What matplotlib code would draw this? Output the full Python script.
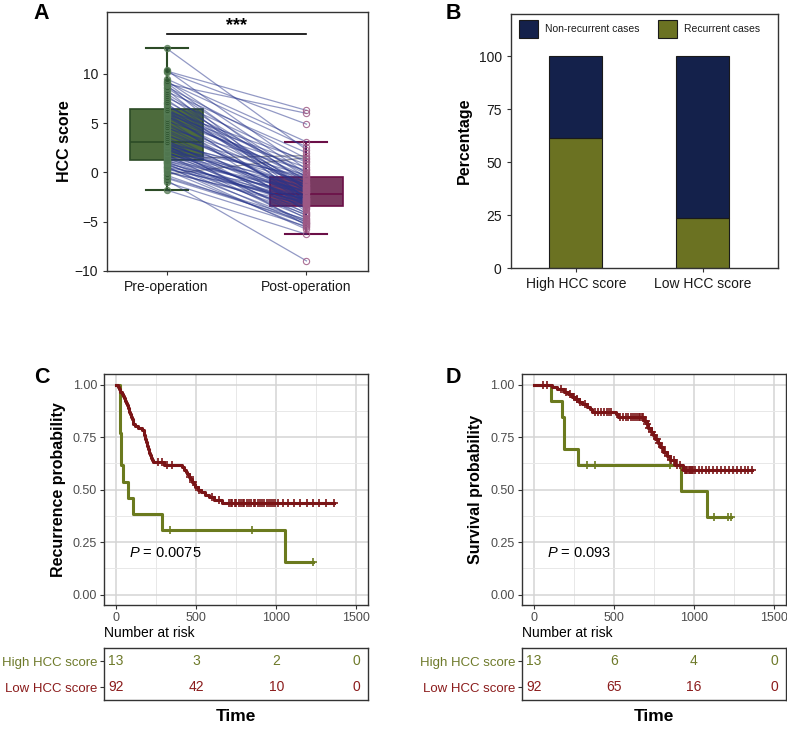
import numpy as np
import matplotlib
matplotlib.use("Agg")
import matplotlib.pyplot as plt
from matplotlib.patches import Rectangle

plt.rcParams["font.family"] = "Liberation Sans"
plt.rcParams["mathtext.fontset"] = "custom"
plt.rcParams["mathtext.it"] = "Liberation Sans:italic"
plt.rcParams["mathtext.rm"] = "Liberation Sans"

# ---------------- data ----------------
timepoints = ["Pre-operation", "Post-operation"]
pre_score = [-1.8, -1.0, -0.8, -0.6, -0.5, -0.3, -0.2, 0.0, 0.1, 0.2, 0.3, 0.4, 0.5, 0.5, 0.6,
             0.7, 0.8, 0.9, 0.9, 1.0, 1.1, 1.15,
             1.2, 1.3, 1.4, 1.5, 1.6, 1.7, 1.8, 1.9, 2.0, 2.0, 2.1, 2.2, 2.3, 2.4, 2.5, 2.5,
             2.6, 2.7, 2.8, 2.8, 2.9, 2.95, 3.0,
             3.1, 3.3, 3.5, 3.7, 3.9, 4.1, 4.3, 4.5, 4.6, 4.8, 5.0, 5.2, 5.4, 5.6, 5.7, 5.8,
             5.9, 6.0, 6.1, 6.2, 6.25, 6.3,
             6.5, 6.7, 6.9, 7.0, 7.2, 7.4, 7.6, 7.8, 8.0, 8.2, 8.4, 8.6, 8.7, 8.9, 9.0, 9.1,
             9.2, 9.3, 9.5, 10.2, 10.3, 10.4, 12.6]
post_score = [-6.3, -5.5, -9.0, -5.0, -4.8, -5.2, 1.5, -3.3, -3.6, -5.6, -2.7, -3.0, -4.9, -2.0, -5.8,
              -3.1, -4.3, -2.8, -5.3, -3.2, -4.6, -1.9,
              -3.5, -1.8, 1.7, -4.1, -3.3, -2.6, -5.1, -1.5, -2.8, -2.9, -4.4, -1.2, -3.1, -2.0, -4.7, -0.4,
              -2.4, -3.7, -1.7, -5.4, -2.3, -0.6, -3.0,
              -1.0, -4.2, -2.7, -0.3, -3.4, -1.8, -2.1, 0.2, -2.4, -1.3, -2.6, 0.5, -4.0, -1.6, -0.4, -2.9,
              0.8, -3.2, -1.1, -1.5, 1.2, -0.7,
              -1.6, 0.0, -1.4, -2.6, -0.2, -2.0, 1.0, -1.7, -0.9, 2.0, -3.1, -0.5, 1.4, -2.8, 6.0, -1.2,
              2.6, -0.1, 3.1, 4.9, 6.3, 0.3, 2.3]

score_groups = ["High HCC score", "Low HCC score"]
outcome_labels = ["Non-recurrent cases", "Recurrent cases"]
recurrent_pct = [61.5, 23.9]
nonrecurrent_pct = [38.5, 76.1]

# recurrence (panel C)
rec_high_events = [22, 25, 28, 30, 32, 45, 75, 108, 285, 1052]
rec_high_censored = [337, 852, 1227]
rec_low_events = [10, 18, 28, 35, 42, 48, 55, 60, 66, 72, 78, 84, 90, 95, 100, 104, 108,
                  120, 140, 160, 172, 176, 180, 184, 188, 192, 196, 200, 204, 208, 213, 218,
                  223, 228, 300, 415, 425, 435, 445, 455, 465, 475, 485, 495,
                  510, 530, 555, 580, 610, 660]
rec_low_censored = [260, 290, 320, 350, 460, 480, 520, 600, 640,
                    705, 715, 725, 740, 750, 765, 780, 790, 800, 815, 830, 845, 860, 870,
                    885, 900, 910, 925, 940, 955, 965, 980, 995,
                    1010, 1040, 1075, 1110, 1150, 1190, 1230, 1270, 1310, 1358]

# survival (panel D)
surv_high_events = [109, 177, 192, 192, 277, 917, 1083]
surv_high_censored = [333, 385, 850, 1125, 1210, 1229]
surv_low_events = [115, 146, 190, 215, 240, 260, 280, 302, 330, 350, 365, 515, 525,
                   690, 705, 715, 730, 745, 760, 775, 790, 810, 830, 850, 880, 935]
surv_low_censored = [60, 80, 170, 200, 225, 250, 270, 290, 320, 380, 400, 420, 440, 455, 470, 485,
                     540, 560, 575, 590, 605, 620, 635, 645, 655, 665, 675, 685,
                     698, 710, 722, 738, 752, 768, 782, 798, 818, 838, 858, 875, 895, 915,
                     945, 953, 960, 968, 975, 982, 988, 995,
                     1010, 1030, 1050, 1075, 1095, 1120, 1145, 1170, 1195, 1220, 1245, 1270,
                     1295, 1320, 1340, 1360]

p_recurrence = "0.0075"
p_survival = "0.093"
risk_times = [0, 500, 1000, 1500]

# ---------------- style ----------------
GREEN_BOX, GREEN_EDGE = "#4d6b3c", "#2c4b26"
PURPLE_BOX, PURPLE_EDGE = "#7a3b61", "#6b0f47"
NAVY, OLIVE = "#14214b", "#6b7222"
KM_RED, KM_GREEN = "#7a1416", "#6b7a1e"
TXT_RED, TXT_GREEN = "#8b1c1c", "#6e7a2a"

W, H = 787, 729
fig = plt.figure(figsize=(W / 100, H / 100), dpi=100)


def px_axes(x0, y0, x1, y1):
    return fig.add_axes([x0 / W, 1 - y1 / H, (x1 - x0) / W, (y1 - y0) / H])


def frame(ax):
    for sp in ax.spines.values():
        sp.set_color("#333333")
        sp.set_linewidth(1.0)


def km_curve(events, censored):
    times = np.array(events + censored, float)
    dead = np.array([1] * len(events) + [0] * len(censored))
    s = 1.0
    xs, ys, cx, cy = [0.0], [1.0], [], []
    for t in np.unique(times):
        at = times == t
        n = (times >= t).sum()
        d = dead[at].sum()
        if d:
            s *= 1 - d / n
        xs.append(t)
        ys.append(s)
        if (dead[at] == 0).any():
            cx.append(t)
            cy.append(s)
    return xs, ys, cx, cy


# ---------------- A ----------------
axA = px_axes(107, 12, 368, 270.7)
frame(axA)
bp = axA.boxplot([pre_score, post_score], positions=[1, 2], widths=0.52, patch_artist=True,
                 showfliers=False, capwidths=0.3, zorder=1)
for i, (fc, ec) in enumerate([(GREEN_BOX, GREEN_EDGE), (PURPLE_BOX, PURPLE_EDGE)]):
    bp["boxes"][i].set(facecolor=fc, edgecolor=ec, linewidth=1.2)
    bp["medians"][i].set(color=ec, linewidth=1.2)
    for w in bp["whiskers"][2 * i:2 * i + 2] + bp["caps"][2 * i:2 * i + 2]:
        w.set(color=ec, linewidth=1.5)
for a, b in zip(pre_score, post_score):
    down = b < a
    axA.plot([1, 2], [a, b], color="#27348b" if down else "#8a8a8a",
             alpha=0.5 if down else 0.85, lw=0.9, zorder=2)
axA.plot([1] * len(pre_score), pre_score, "o", ms=4.5, mfc=(0.18, 0.33, 0.18, 0.6),
         mec=(0.35, 0.5, 0.35, 0.8), mew=0.8, zorder=3)
axA.plot([2] * len(post_score), post_score, "o", ms=4.5, mfc="none",
         mec=(0.62, 0.35, 0.52, 0.85), mew=0.8, zorder=3)
axA.plot([1, 2], [14.1, 14.1], color="black", lw=1.2)
axA.text(1.5, 14.1, "***", ha="center", va="bottom", fontsize=13, fontweight="bold")
axA.set_xlim(0.574, 2.44)
axA.set_ylim(-10, 16.3)
axA.set_yticks([-10, -5, 0, 5, 10])
axA.set_xticks([1, 2])
axA.set_xticklabels(timepoints)
axA.tick_params(labelsize=10, length=3, color="#333333", labelcolor="#1a1a1a")
axA.set_ylabel("HCC score", fontsize=11.5, fontweight="bold", labelpad=2)

# ---------------- B ----------------
axB = px_axes(510.7, 14, 778.3, 268.3)
frame(axB)
xb = [1, 2]
axB.bar(xb, recurrent_pct, width=0.42, color=OLIVE, edgecolor="#1a1a1a", lw=0.8)
axB.bar(xb, nonrecurrent_pct, width=0.42, bottom=recurrent_pct, color=NAVY,
        edgecolor="#1a1a1a", lw=0.8)
axB.set_xlim(0.487, 2.596)
axB.set_ylim(0, 120)
axB.set_yticks([0, 25, 50, 75, 100])
axB.set_xticks(xb)
axB.set_xticklabels(score_groups)
axB.tick_params(labelsize=10, length=3, color="#333333", labelcolor="#1a1a1a")
axB.set_ylabel("Percentage", fontsize=11.5, fontweight="bold", labelpad=5)
for lx, tx, col, lab in [(0.031, 0.128, NAVY, outcome_labels[0]),
                         (0.550, 0.648, OLIVE, outcome_labels[1])]:
    axB.add_patch(Rectangle((lx, 0.906), 0.07, 0.07, transform=axB.transAxes,
                            facecolor=col, edgecolor="#1a1a1a", lw=0.8))
    axB.text(tx, 0.941, lab, transform=axB.transAxes, fontsize=7.5, va="center",
             color="#1a1a1a")


# ---------------- C / D ----------------
def km_panel(x0, x1, groups, ylabel, pval):
    ax = px_axes(x0, 374.3, x1, 605)
    frame(ax)
    ax.set_xlim(-75, 1575)
    ax.set_ylim(-0.05, 1.05)
    ax.set_xticks(risk_times)
    ax.set_xticks([250, 750, 1250], minor=True)
    ax.set_yticks([0, 0.25, 0.5, 0.75, 1.0])
    ax.set_yticks([0.125, 0.375, 0.625, 0.875], minor=True)
    ax.set_yticklabels(["0.00", "0.25", "0.50", "0.75", "1.00"])
    ax.grid(which="major", color="#d4d4d4", lw=1.1)
    ax.grid(which="minor", color="#e8e8e8", lw=0.7)
    ax.set_axisbelow(True)
    ax.tick_params(which="major", labelsize=9, length=3, pad=2, color="#333333",
                   labelcolor="#4d4d4d")
    ax.tick_params(which="minor", length=0)
    for ev, ce, col in groups:
        xs, ys, cx, cy = km_curve(ev, ce)
        ax.step(xs, ys, where="post", color=col, lw=2.2)
        ax.plot(cx, cy, "+", color=col, ms=5.5, mew=1.2)
    ax.text(84, 0.197, r"$P$ = " + pval, fontsize=10.5, va="center", ha="left")
    ax.set_ylabel(ylabel, fontsize=11.5, fontweight="bold", labelpad=5)

    rt = px_axes(x0, 648.3, x1, 700)
    frame(rt)
    rt.set_xlim(-75, 1575)
    rt.set_ylim(0.5, 2.5)
    rt.set_xticks([])
    rt.set_yticks([2, 1])
    rt.set_yticklabels(score_groups, fontsize=9.5)
    for lbl, c in zip(rt.get_yticklabels(), [TXT_GREEN, TXT_RED]):
        lbl.set_color(c)
    rt.tick_params(axis="y", length=3, pad=1.5, color="#333333")
    for yrow, (ev, ce, _), c in zip([2, 1], groups, [TXT_GREEN, TXT_RED]):
        allt = np.array(ev + ce)
        for t in risk_times:
            rt.text(t, yrow, str(int((allt >= t).sum())), ha="center", va="center",
                    fontsize=10, color=c)
    rt.text(0, 1.29, "Number at risk", transform=rt.transAxes, fontsize=10,
            va="center", ha="left")
    rt.text(0.5, -0.323, "Time", transform=rt.transAxes, fontsize=12.5,
            fontweight="bold", ha="center", va="center")
    return ax


km_panel(104, 368.3, [(rec_high_events, rec_high_censored, KM_GREEN),
                      (rec_low_events, rec_low_censored, KM_RED)],
         "Recurrence probability", p_recurrence)
km_panel(521.7, 786, [(surv_high_events, surv_high_censored, KM_GREEN),
                      (surv_low_events, surv_low_censored, KM_RED)],
         "Survival probability", p_survival)

for lab, x, y in [("A", 41.7, 13.5), ("B", 453, 13.5), ("C", 41.7, 377.5), ("D", 453.3, 377.5)]:
    fig.text(x / W, 1 - y / H, lab, fontsize=15.5, fontweight="bold", ha="center", va="center")

fig.savefig("out.png", dpi=100)
